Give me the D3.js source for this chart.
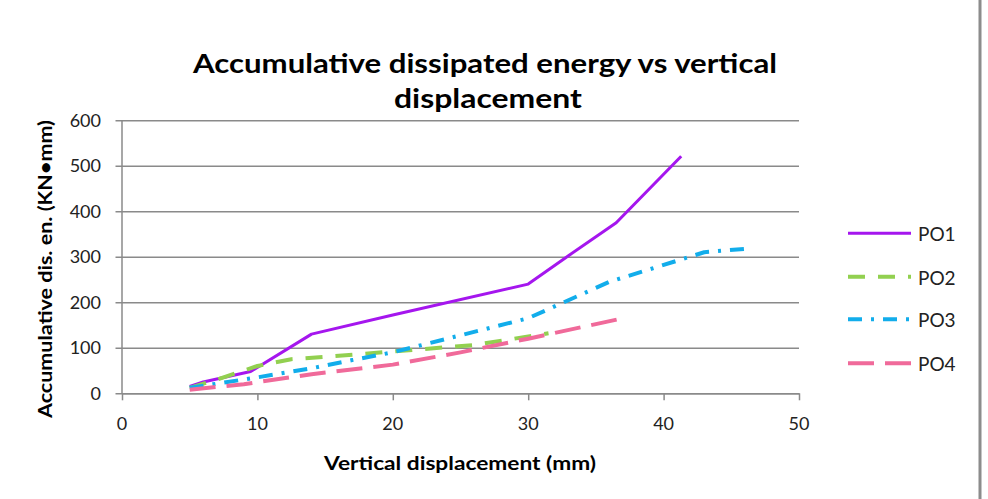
<!DOCTYPE html>
<html>
<head>
<meta charset="utf-8">
<script src="https://cdn.jsdelivr.net/npm/d3@7/dist/d3.min.js"></script>
<style>
  html, body { margin: 0; padding: 0; background: #fff; }
  svg { display: block; }
  text { font-family: Lato, "Open Sans", sans-serif; }
</style>
</head>
<body>
<svg id="chart" width="988" height="499"></svg>
<script>
// ---- data ----
const titleLines = ["Accumulative dissipated energy vs vertical", "displacement"];
const xLabel = "Vertical displacement (mm)";
const yLabel = "Accumulative dis. en. (KN\u2022mm)";
const xTicks = [0, 10, 20, 30, 40, 50];
const yTicks = [0, 100, 200, 300, 400, 500, 600];
const seriesNames = ["PO1", "PO2", "PO3", "PO4"];

const po1X = [5, 6, 9.5, 14, 20, 30, 33, 36.5, 41.3];
const po1Y = [15, 25, 48, 130, 172, 240, 303, 375, 521];
const po2X = [5, 7, 10, 12.5, 15, 20, 26, 31.5];
const po2Y = [12, 30, 60, 75, 80, 92, 106, 132];
const po3X = [5, 10, 14, 17, 20, 30, 36, 43, 46.2];
const po3Y = [12, 35, 55, 73, 90, 165, 245, 310, 318];
const po4X = [5, 9, 14, 20, 25, 30, 37];
const po4Y = [8, 20, 42, 63, 90, 120, 165];

const seriesX = [po1X, po2X, po3X, po4X];
const seriesY = [po1Y, po2Y, po3Y, po4Y];

// ---- styles ----
const colors = ["#A516EE", "#92D050", "#12ADEB", "#F06A9A"];
const dashes = [null, "17,13", "14,9,3,9", "26,11"];
const widths = [3, 4, 4, 4];

const svg = d3.select("#chart");
const x = d3.scaleLinear().domain([0, 50]).range([122, 799]);
const y = d3.scaleLinear().domain([0, 600]).range([393.3, 120.3]);

// right border of chart frame
svg.append("rect").attr("x", 978.5).attr("y", 0).attr("width", 3).attr("height", 499).attr("fill", "#8c8c8c");

// gridlines + y ticks
const yAxis = d3.axisLeft(y).tickValues(yTicks).tickSize(-(799 - 122)).tickSizeOuter(0).tickFormat("");
const gy = svg.append("g").attr("transform", "translate(122,0)").call(yAxis);
gy.select(".domain").remove();
gy.selectAll(".tick line").attr("x1", -6.5).attr("stroke", "#8a8a8a").attr("stroke-width", 1.5);

// y axis line
svg.append("line").attr("x1", 122).attr("x2", 122).attr("y1", y(600)).attr("y2", y(0))
  .attr("stroke", "#8a8a8a").attr("stroke-width", 1.5);

// x axis ticks
const xAxis = d3.axisBottom(x).tickValues(xTicks).tickSize(7).tickSizeOuter(0).tickFormat("");
const gx = svg.append("g").attr("transform", `translate(0,${y(0)})`).call(xAxis);
gx.select(".domain").attr("stroke", "#8a8a8a").attr("stroke-width", 1.5);
gx.selectAll(".tick line").attr("stroke", "#8a8a8a").attr("stroke-width", 1.5);

// tick labels
svg.append("g").selectAll("text").data(yTicks).join("text")
  .attr("x", 101).attr("y", d => y(d)).attr("dy", "0.36em")
  .attr("text-anchor", "end").attr("font-size", 18).attr("fill", "#222")
  .text(d => d);
svg.append("g").selectAll("text").data(xTicks).join("text")
  .attr("x", d => x(d)).attr("y", 430)
  .attr("text-anchor", "middle").attr("font-size", 18).attr("fill", "#222")
  .text(d => d);

// series lines
const line = d3.line().x(d => x(d[0])).y(d => y(d[1]));
seriesNames.forEach((name, i) => {
  const pts = seriesX[i].map((v, j) => [v, seriesY[i][j]]);
  svg.append("path").datum(pts).attr("d", line)
    .attr("fill", "none").attr("stroke", colors[i]).attr("stroke-width", widths[i])
    .attr("stroke-dasharray", dashes[i]).attr("stroke-linejoin", "round");
});

// legend
const legendY = [233.3, 276.7, 319.3, 363.3];
seriesNames.forEach((name, i) => {
  svg.append("line").attr("x1", 848).attr("x2", 911).attr("y1", legendY[i]).attr("y2", legendY[i])
    .attr("stroke", colors[i]).attr("stroke-width", widths[i]).attr("stroke-dasharray", dashes[i]);
  svg.append("text").attr("x", 918).attr("y", legendY[i] + 1).attr("dy", "0.36em")
    .attr("font-size", 19).attr("fill", "#222").text(name);
});

// title
svg.append("text").attr("x", 485).attr("y", 73).attr("text-anchor", "middle")
  .attr("font-size", 27).attr("font-weight", "bold").attr("fill", "#000")
  .attr("textLength", 584).attr("lengthAdjust", "spacingAndGlyphs").text(titleLines[0]);
svg.append("text").attr("x", 488).attr("y", 108).attr("text-anchor", "middle")
  .attr("font-size", 27).attr("font-weight", "bold").attr("fill", "#000")
  .attr("textLength", 188).attr("lengthAdjust", "spacingAndGlyphs").text(titleLines[1]);

// axis titles
svg.append("text").attr("x", 460).attr("y", 470).attr("text-anchor", "middle")
  .attr("font-size", 19).attr("font-weight", "bold").attr("fill", "#000")
  .attr("textLength", 272).attr("lengthAdjust", "spacingAndGlyphs").text(xLabel);
svg.append("text").attr("transform", "translate(52,269) rotate(-90)").attr("text-anchor", "middle")
  .attr("font-size", 19).attr("font-weight", "bold").attr("fill", "#000")
  .attr("textLength", 298).attr("lengthAdjust", "spacingAndGlyphs").text(yLabel);
</script>
</body>
</html>
